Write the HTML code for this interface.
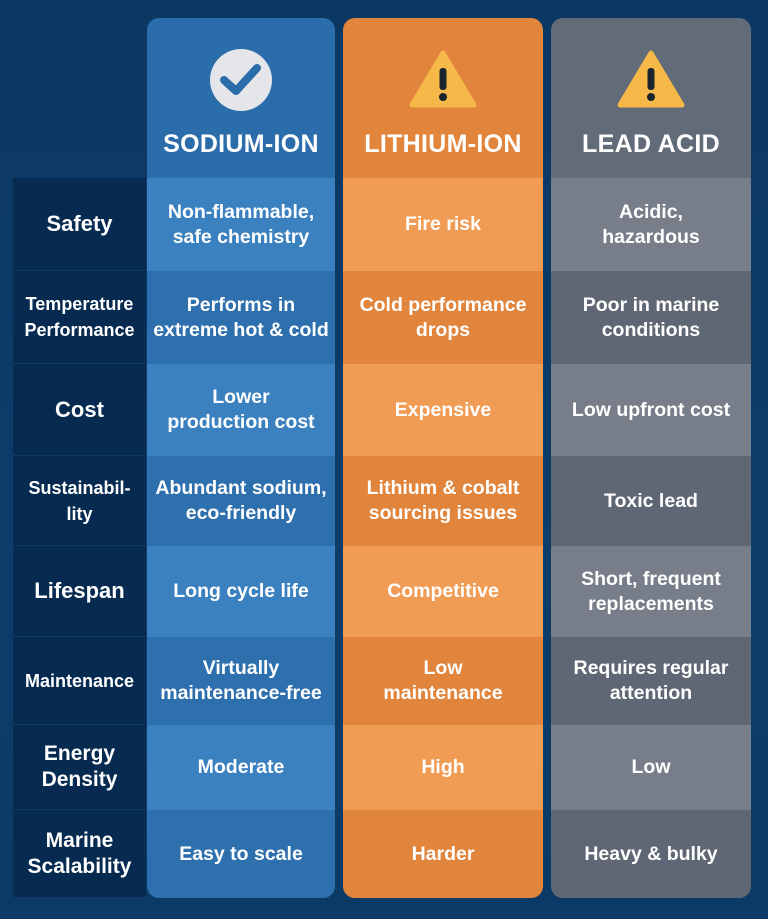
<!DOCTYPE html>
<html><head><meta charset="utf-8"><style>
*{margin:0;padding:0;box-sizing:border-box}
body{width:768px;height:919px;background:linear-gradient(180deg,#0b3763 0%,#0d3d6b 60%,#0b3a66 100%);font-family:"Liberation Sans",sans-serif;position:relative;overflow:hidden;color:#fff}
.col{position:absolute;top:18px;height:880px;border-radius:12px;overflow:hidden}
.hdr{position:absolute;top:0;left:0;right:0;height:160px;text-align:center}
.hdr .t{position:absolute;top:112px;left:0;right:0;font-weight:bold;font-size:25px;letter-spacing:0.3px}
.cell{position:absolute;left:0;right:0;display:flex;align-items:center;justify-content:center;text-align:center;font-weight:bold;font-size:19.5px;line-height:25px;padding:0 6px}
.lab{position:absolute;left:13px;width:133px;display:flex;align-items:center;justify-content:center;text-align:center;font-weight:bold;background:#062a50;border-bottom:1px solid #0f3a66;line-height:26px}
</style></head><body>
<div id="labels"></div>
<div class="col" style="left:147px;width:188px;background:#2b6cab">
 <div class="hdr">
  <svg width="64" height="64" style="position:absolute;left:62px;top:30px" viewBox="0 0 64 64"><circle cx="32" cy="32" r="31" fill="#e4e6ea"/><path d="M15 32 L27 43 L48 20" stroke="#2b6cab" stroke-width="8" fill="none" stroke-linecap="round" stroke-linejoin="round"/></svg>
  <div class="t">SODIUM-ION</div></div>
</div>
<div class="col" style="left:343px;width:200px;background:#e2853c">
 <div class="hdr">
  <svg width="68" height="58" style="position:absolute;left:66px;top:32px" viewBox="0 0 68 58"><path d="M34 3 L65 55 L3 55 Z" fill="#f7b84a" stroke="#f7b84a" stroke-width="5" stroke-linejoin="round"/><rect x="30.5" y="18" width="7" height="22" rx="3" fill="#1b2530"/><circle cx="34" cy="47" r="4" fill="#1b2530"/></svg>
  <div class="t">LITHIUM-ION</div></div>
</div>
<div class="col" style="left:551px;width:200px;background:#626b78">
 <div class="hdr">
  <svg width="68" height="58" style="position:absolute;left:66px;top:32px" viewBox="0 0 68 58"><path d="M34 3 L65 55 L3 55 Z" fill="#f7b84a" stroke="#f7b84a" stroke-width="5" stroke-linejoin="round"/><rect x="30.5" y="18" width="7" height="22" rx="3" fill="#1b2530"/><circle cx="34" cy="47" r="4" fill="#1b2530"/></svg>
  <div class="t">LEAD ACID</div></div>
</div>
<script>
const rowEdges=[178,271,364,456,546,637,725,810,898];
const labels=[["Safety",22],["Temperature<br>Performance",18],["Cost",22],["Sustainabil-<br>lity",18],["Lifespan",22],["Maintenance",18],["Energy<br>Density",21],["Marine<br>Scalability",21]];
const sodium=["Non-flammable,<br>safe chemistry","Performs in<br>extreme hot &amp; cold","Lower<br>production cost","Abundant sodium,<br>eco-friendly","Long cycle life","Virtually<br>maintenance-free","Moderate","Easy to scale"];
const lithium=["Fire risk","Cold performance<br>drops","Expensive","Lithium &amp; cobalt<br>sourcing issues","Competitive","Low<br>maintenance","High","Harder"];
const lead=["Acidic,<br>hazardous","Poor in marine<br>conditions","Low upfront cost","Toxic lead","Short, frequent<br>replacements","Requires regular<br>attention","Low","Heavy &amp; bulky"];
const cols=document.querySelectorAll('.col');
const colors=[["#3b80bf","#2e6fae"],["#f09c55","#e2853c"],["#787e89","#5f6774"]];
const data=[sodium,lithium,lead];
const names=['sodium','lithium','lead'];
const lc=document.getElementById('labels');
labels.forEach((l,i)=>{
 const d=document.createElement('div');d.className='lab';
 
 
 d.style.top=rowEdges[i]+'px';d.style.height=(rowEdges[i+1]-rowEdges[i])+'px';d.style.fontSize=l[1]+'px';d.innerHTML=l[0];lc.appendChild(d);
 data.forEach((arr,c)=>{
  const e=document.createElement('div');e.className='cell';
  
  
  e.style.top=(rowEdges[i]-18)+'px';e.style.height=(rowEdges[i+1]-rowEdges[i])+'px';
  e.style.background=colors[c][i%2];e.innerHTML=arr[i];cols[c].appendChild(e);
 });
});
</script>
</body></html>
